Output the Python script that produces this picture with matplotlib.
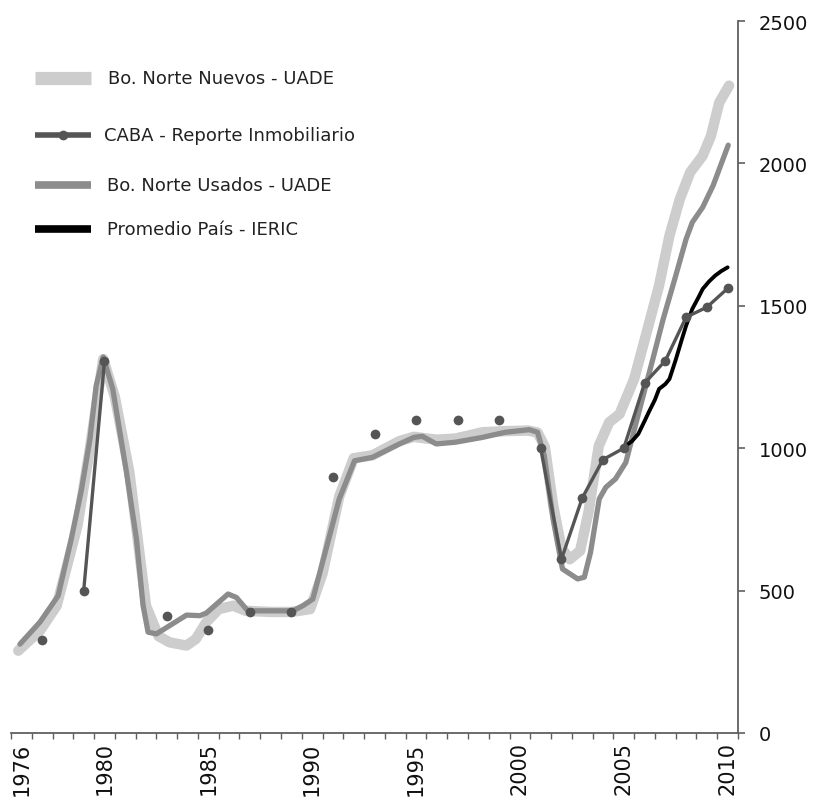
import numpy as np
import matplotlib
matplotlib.use("Agg")
import matplotlib.pyplot as plt

# ---------------- data ----------------
# Bo. Norte Nuevos - UADE (light gray, thick)
nuevos_x = [1975.85, 1976.9, 1977.7, 1978.7, 1979.3, 1979.94, 1980.5, 1981.2, 1982.0,
            1982.6, 1983.15, 1983.95, 1984.4, 1984.9, 1985.5, 1986.2, 1986.8, 1988.0,
            1989.0, 1989.9, 1990.5, 1991.3, 1992.0, 1992.9, 1994.2, 1994.9, 1995.4,
            1996.0, 1996.9, 1998.2, 1999.3, 2000.4, 2000.85, 2001.2, 2001.6, 2002.0,
            2002.4, 2002.9, 2003.3, 2003.8, 2004.3, 2004.8, 2005.1, 2005.5, 2006.06,
            2006.7, 2007.2, 2007.7, 2008.2, 2008.8, 2009.2, 2009.6, 2010.07]
nuevos_v = [289, 360, 447, 728, 1000, 1313, 1180, 915, 447,
            340, 318, 307, 330, 389, 435, 447, 429, 425,
            425, 435, 560, 830, 965, 975, 1025, 1040, 1035,
            1030, 1034, 1056, 1060, 1062, 1055, 1005, 800, 650,
            610, 640, 775, 1009, 1091, 1120, 1173, 1243, 1395,
            1571, 1746, 1875, 1969, 2027, 2097, 2214, 2273]

# Bo. Norte Usados - UADE (medium gray)
usados_x = [1975.93, 1976.9, 1977.77, 1978.4, 1978.9, 1979.3, 1979.6, 1979.94, 1980.4,
            1981.06, 1981.54, 1981.86, 1982.1, 1982.5, 1983.95, 1984.6, 1984.9, 1985.95,
            1986.35, 1986.9, 1989.07, 1989.55, 1990.03, 1991.3, 1992.04, 1992.9, 1994.2,
            1994.9, 1995.3, 1995.97, 1996.9, 1998.2, 1999.3, 2000.45, 2000.85, 2001.17,
            2001.6, 2001.9, 2002.05, 2002.78, 2003.1, 2003.4, 2003.82, 2004.14, 2004.6,
            2005.1, 2005.6, 2006.06, 2006.4, 2006.9, 2007.5, 2008.0, 2008.3, 2008.8,
            2009.3, 2010.03]
usados_v = [312, 390, 482, 681, 857, 1032, 1219, 1320, 1208,
            915, 681, 447, 354, 348, 414, 412, 421, 488,
            476, 429, 429, 447, 470, 821, 956, 968, 1015,
            1038, 1042, 1015, 1021, 1038, 1056, 1065, 1056, 975,
            751, 634, 576, 541, 547, 634, 822, 863, 892,
            950, 1091, 1219, 1313, 1454, 1605, 1734, 1793, 1846,
            1922, 2064]

# CABA - Reporte Inmobiliario (yearly, gaps where no data)
caba_years = list(range(1976, 2011))
caba_v = [np.nan, 325, np.nan, 500, 1305, np.nan, np.nan, 410, np.nan, 360,
          np.nan, 425, np.nan, 425, np.nan, 900, np.nan, 1050, np.nan, 1100,
          np.nan, 1100, np.nan, 1100, np.nan, 1000, 610, 825, 960, 1000,
          1228, 1307, 1460, 1495, 1561]

# Promedio País - IERIC (black)
ieric_x = [2005.1, 2005.4, 2005.7, 2006.0, 2006.2, 2006.5, 2006.7, 2007.0, 2007.2,
           2007.5, 2007.8, 2008.0, 2008.3, 2008.6, 2008.8, 2009.1, 2009.4, 2009.7, 2010.0]
ieric_v = [1009, 1025, 1050, 1095, 1126, 1170, 1208, 1225, 1243,
           1310, 1383, 1430, 1489, 1530, 1559, 1585, 1606, 1622, 1635]

year_labels = [1976, 1980, 1985, 1990, 1995, 2000, 2005, 2010]
y_ticks = [0, 500, 1000, 1500, 2000, 2500]

legend_labels = ["Bo. Norte Nuevos - UADE", "CABA - Reporte Inmobiliario",
                 "Bo. Norte Usados - UADE", "Promedio País - IERIC"]

# ---------------- styles ----------------
c_nuevos = "#cdcdcd"
c_usados = "#8c8c8c"
c_caba = "#555555"
c_ieric = "#000000"
axis_col = "#606060"

fig = plt.figure(figsize=(8.14, 8.04), dpi=100)
ax = fig.add_axes([11 / 814, (804 - 734) / 804, (738 - 11) / 814, (734 - 22) / 804])

ax.plot(nuevos_x, nuevos_v, color=c_nuevos, lw=7.5, solid_capstyle="round",
        solid_joinstyle="round", zorder=2)
ax.plot(usados_x, usados_v, color=c_usados, lw=3.8, solid_capstyle="round",
        solid_joinstyle="round", zorder=3)
ax.plot(ieric_x, ieric_v, color=c_ieric, lw=2.8, solid_capstyle="round", zorder=4)
ax.plot(caba_years, caba_v, color=c_caba, lw=2.4, marker="o", markersize=7,
        markeredgewidth=0, zorder=5)

ax.set_xlim(1975.5, 2010.5)
ax.set_ylim(0, 2500)

for s in ["left", "top"]:
    ax.spines[s].set_visible(False)
for s in ["right", "bottom"]:
    ax.spines[s].set_color(axis_col)
    ax.spines[s].set_linewidth(1.3)

ax.yaxis.tick_right()
ax.set_yticks(y_ticks)
ax.set_yticklabels([str(v) for v in y_ticks])
ax.tick_params(axis="y", direction="out", length=5, width=1.2, color=axis_col,
               pad=10, labelsize=14, labelcolor="#111111")

ax.set_xticks(year_labels)
ax.set_xticklabels([str(y) for y in year_labels], rotation=90)
ax.set_xticks(np.arange(1975.5, 2011, 1.0), minor=True)
ax.tick_params(axis="x", which="major", length=0, pad=6, labelsize=15,
               labelcolor="#111111")
ax.tick_params(axis="x", which="minor", direction="out", length=4.5, width=1.0,
               color=axis_col)

# ---------------- manual legend (uneven spacing as in reference) ----------------
def px(x, y):
    return ((x - 11) / (738 - 11), (734 - y) / (734 - 22))

leg_rows = [
    (79, 108, dict(color=c_nuevos, lw=9.5)),
    (136, 104, dict(color=c_caba, lw=4.0, marker="o", markersize=7, markeredgewidth=0,
                    markevery=[1])),
    (186, 107, dict(color=c_usados, lw=5.5)),
    (230, 107, dict(color=c_ieric, lw=5.5)),
]
for (yy, tx, style), lab in zip(leg_rows, legend_labels):
    x0, y0 = px(35, yy)
    x1, _ = px(91, yy)
    ax.plot([x0, (x0 + x1) / 2, x1], [y0, y0, y0], transform=ax.transAxes,
            clip_on=False, solid_capstyle="butt", zorder=6, **style)
    xt, yt = px(tx, yy)
    ax.text(xt, yt, lab, transform=ax.transAxes, fontsize=13, color="#222222",
            va="center", ha="left")

fig.savefig("out.png", dpi=100)
